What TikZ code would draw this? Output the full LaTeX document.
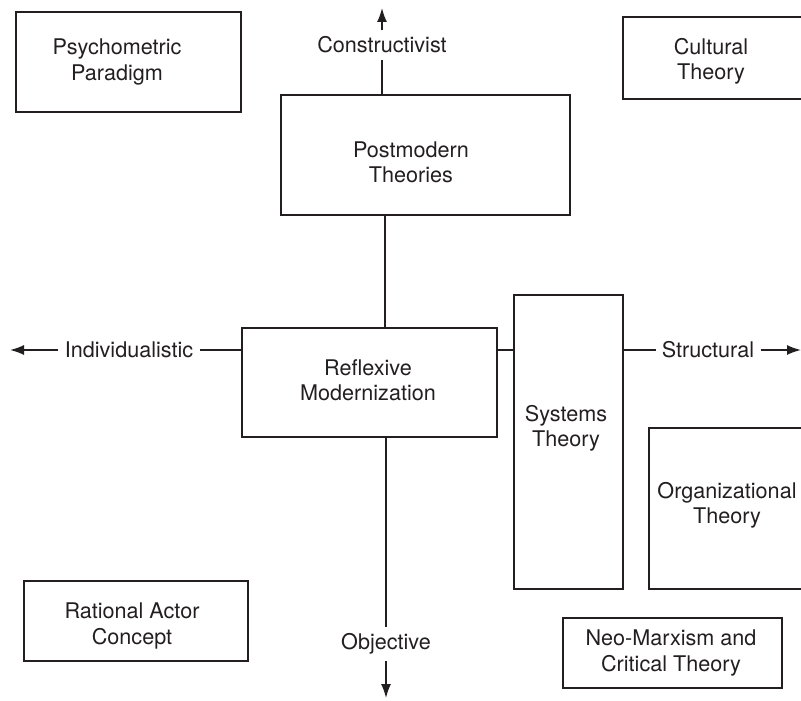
\documentclass[tikz,border=0pt]{standalone}
\usepackage{fontspec}
\setmainfont{TeX Gyre Heros}
\usepackage{tikz}
\usetikzlibrary{arrows.meta, positioning, calc}
\definecolor{mapink}{HTML}{231F20}

\begin{document}
\begin{tikzpicture}[
  x=0.5pt, y=-0.5pt,
  font=\fontsize{10.8}{12.6}\selectfont,
  every node/.style={align=center, text=mapink},
  box/.style={draw=mapink, line width=0.8pt, inner sep=0pt},
  boxtext/.style={inner sep=0pt},
  axis/.style={draw=mapink, line width=0.8pt},
  axisarrow/.style={axis, -{Latex[length=7pt, width=5pt]}},
  axislabel/.style={inner sep=3pt}
]
\useasboundingbox (0,0) rectangle (801,700);

% theory boxes
\node[box, minimum width=112.5pt, minimum height=50pt] (psych) at (128.5,62) {};
\node[boxtext] (psychtxt) at (117,62) {Psychometric\\Paradigm};

\node[box, minimum width=144.5pt, minimum height=60pt] (pm) at (425.5,155) {};
\node[boxtext] (pmtxt) at (411,162) {Postmodern\\Theories};

\node[box, minimum width=91pt, minimum height=41pt] (cult) at (714,58) {};
\node[boxtext] (culttxt) at (711,61) {Cultural\\Theory};

\node[box, minimum width=127.5pt, minimum height=54.5pt] (refl) at (369.5,382.5) {};
\node[boxtext] (refltxt) at (368,380) {Reflexive\\Modernization};

\node[box, minimum width=54.5pt, minimum height=147pt] (sys) at (568.5,442) {};
\node[boxtext] (systxt) at (566,428) {Systems\\Theory};

\node[box, minimum width=78pt, minimum height=80.5pt] (org) at (727,508.5) {};
\node[boxtext] (orgtxt) at (727,505) {Organizational\\Theory};

\node[box, minimum width=112pt, minimum height=40pt] (rat) at (136,621) {};
\node[boxtext] (rattxt) at (132,626) {Rational Actor\\Concept};

\node[box, minimum width=109.5pt, minimum height=35pt] (neo) at (672.5,653) {};
\node[boxtext] (neotxt) at (671,653) {Neo-Marxism and\\Critical Theory};

% axes
\coordinate (cross) at (385,350);
\coordinate (uptip) at (382,8);
\coordinate (lefttip) at (10,350);
\coordinate (righttip) at (801,350);
\coordinate (downtip) at (386,698);

\node[axislabel] (constr) at (382,45) {Constructivist};
\node[axislabel] (indiv) at (129,350) {Individualistic};
\node[axislabel] (struct) at (708,350) {Structural};
\node[axislabel] (obj) at (386,644) {Objective};

\draw[axisarrow] (constr.north) -- (uptip);
\draw[axis] (pm.north -| constr) -- (constr.south);
\draw[axis] (pm.south -| cross) -- (refl.north -| cross);

\draw[axis] (refl.west |- cross) -- (indiv.east);
\draw[axisarrow] (indiv.west) -- (lefttip);

\draw[axis] (refl.east |- cross) -- (sys.west |- cross);
\draw[axis] (sys.east |- cross) -- (struct.west);
\draw[axisarrow] (struct.east) -- (righttip);

\draw[axis] (refl.south -| obj) -- (obj.north);
\draw[axisarrow] (obj.south) -- (downtip);

\end{tikzpicture}
\end{document}
